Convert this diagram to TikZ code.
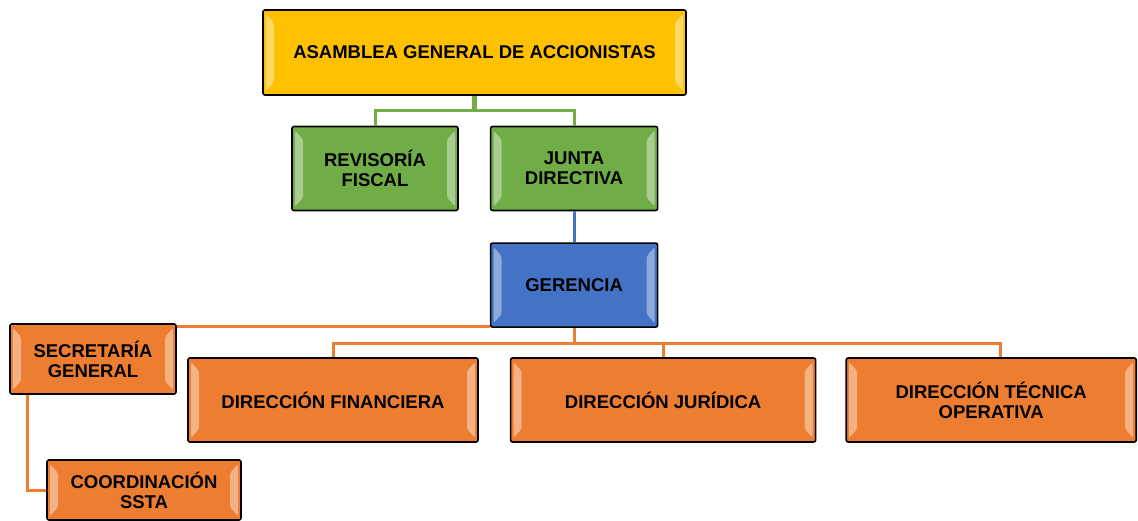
\documentclass[tikz,border=0pt]{standalone}
\usepackage{fontspec}
\setmainfont{Liberation Sans}
\usetikzlibrary{positioning}

\definecolor{gold}{HTML}{FFC000}
\definecolor{leaf}{HTML}{70AD47}
\definecolor{steel}{HTML}{4472C4}
\definecolor{tang}{HTML}{ED7D31}

\tikzset{
	bevel/.style={path picture={
		\fill[white, opacity=0.4]
			([shift={(3pt,-4pt)}]path picture bounding box.north west) -- ++(8pt,-9pt)
			-- ([shift={(11pt,13pt)}]path picture bounding box.south west)
			-- ([shift={(3pt,4pt)}]path picture bounding box.south west) -- cycle;
		\fill[white, opacity=0.4]
			([shift={(-3pt,-4pt)}]path picture bounding box.north east) -- ++(-8pt,-9pt)
			-- ([shift={(-11pt,13pt)}]path picture bounding box.south east)
			-- ([shift={(-3pt,4pt)}]path picture bounding box.south east) -- cycle;
	}},
	unit/.style={draw=black, line width=1.6pt, rounded corners=2pt, bevel, align=center,
		inner sep=0pt, font=\fontsize{18.5}{20}\selectfont\bfseries, minimum height=84pt},
	link/.style={line width=3pt},
}

\begin{document}
\begin{tikzpicture}[x=1pt, y=1pt]
	\useasboundingbox (0,0) rectangle (1138,-521);

	\node [unit, fill=gold, minimum width=423pt, minimum height=85pt] (asamblea) at (474.5,-52.5) {ASAMBLEA GENERAL DE ACCIONISTAS};
	\node [unit, fill=leaf, minimum width=166pt] (revisoria) at (375,-168.5) {REVISORÍA\\FISCAL};
	\node [unit, fill=leaf, minimum width=167pt, right=31pt of revisoria] (junta) {JUNTA\\DIRECTIVA};
	\node [unit, fill=steel, minimum width=167pt, below=31pt of junta] (gerencia) {GERENCIA};
	\node [unit, fill=tang, minimum width=166pt, minimum height=70pt] (secretaria) at (93,-359) {SECRETARÍA\\GENERAL};
	\node [unit, fill=tang, minimum width=290pt] (financiera) at (333,-400) {DIRECCIÓN FINANCIERA};
	\node [unit, fill=tang, minimum width=305pt, right=31pt of financiera] (juridica) {DIRECCIÓN JURÍDICA};
	\node [unit, fill=tang, minimum width=290pt, right=29pt of juridica] (tecnica) {DIRECCIÓN TÉCNICA\\OPERATIVA};
	\node [unit, fill=tang, minimum width=194pt, minimum height=60pt] (coordinacion) at (144,-490) {COORDINACIÓN\\SSTA};

	% asamblea
	\draw [link, leaf, line width=4.5pt] (asamblea.south) -- ++(0,-15) coordinate (top bus);
	\draw [link, leaf] (top bus) -| (revisoria.north);
	\draw [link, leaf] (top bus) -| (junta.north);
	\draw [link, steel] (junta.south) -- (gerencia.north);

	% gerencia
	\draw [link, tang] (gerencia.south) -- ++(0,-16) coordinate (low bus);
	\draw [link, tang] (low bus) -| (financiera.north);
	\draw [link, tang] (low bus) -| (juridica.north);
	\draw [link, tang] (low bus) -| ([xshift=9pt]tecnica.north);
	\draw [link, tang] ([yshift=1pt]gerencia.south west) -- ([yshift=1pt]gerencia.south west -| secretaria.east);
	\draw [link, tang] ([xshift=18pt]secretaria.south west) |- (coordinacion.west);
\end{tikzpicture}
\end{document}
